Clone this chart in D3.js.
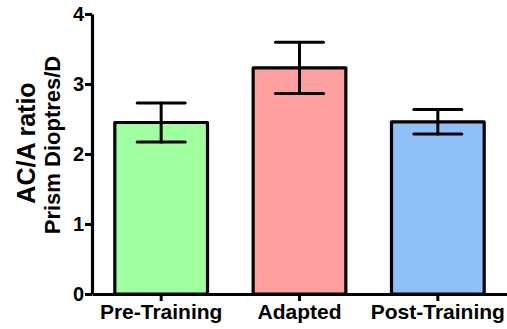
<!DOCTYPE html>
<html>
<head>
<meta charset="utf-8">
<script src="https://cdn.jsdelivr.net/npm/d3@7"></script>
<style>
  html, body { margin: 0; padding: 0; background: #fff; }
  svg { display: block; font-family: "Liberation Sans", Arial, sans-serif; }
</style>
</head>
<body>
<svg id="chart" width="507" height="329"></svg>
<script>
// AC/A ratio by training phase (mean ± SEM)
const categories = ["Pre-Training", "Adapted", "Post-Training"];
const means = [2.45, 3.23, 2.46];
const sems = [0.28, 0.365, 0.175];
const barColors = ["#a0ffa0", "#ffa0a0", "#90c0f8"];
const yTicks = [0, 1, 2, 3, 4];

const svg = d3.select("#chart");
const margin = { left: 92, right: 0, top: 14, bottom: 35 };
const W = 507, H = 329;

const x = d3.scaleBand()
  .domain(categories)
  .range([margin.left, W - margin.right])
  .paddingInner(0.33)
  .paddingOuter(0.165);

const y = d3.scaleLinear()
  .domain([0, 4])
  .range([H - margin.bottom, margin.top]);

// Bars
svg.append("g").selectAll("rect")
  .data(categories)
  .join("rect")
  .attr("x", d => x(d))
  .attr("width", x.bandwidth())
  .attr("y", (d, i) => y(means[i]))
  .attr("height", (d, i) => y(0) - y(means[i]))
  .attr("fill", (d, i) => barColors[i])
  .attr("stroke", "#000")
  .attr("stroke-width", 3.2)
  .attr("stroke-linejoin", "round");

// Error bars
const capW = 48;
const eb = svg.append("g").attr("stroke", "#000").attr("stroke-width", 3).attr("stroke-linecap", "round");
categories.forEach((c, i) => {
  const cx = x(c) + x.bandwidth() / 2;
  const hi = y(means[i] + sems[i]);
  const lo = y(means[i] - sems[i]);
  eb.append("line").attr("x1", cx).attr("x2", cx).attr("y1", hi).attr("y2", lo);
  eb.append("line").attr("x1", cx - capW / 2).attr("x2", cx + capW / 2).attr("y1", hi).attr("y2", hi);
  eb.append("line").attr("x1", cx - capW / 2).attr("x2", cx + capW / 2).attr("y1", lo).attr("y2", lo);
});

// Y axis
const yAxis = svg.append("g")
  .attr("transform", `translate(${margin.left},0)`)
  .call(d3.axisLeft(y).tickValues(yTicks).tickFormat(d3.format("d")).tickSize(7).tickSizeOuter(0).tickPadding(1));
yAxis.select(".domain").attr("stroke-width", 3.2);
yAxis.selectAll(".tick line").attr("stroke-width", 3);
yAxis.selectAll(".tick text")
  .attr("font-size", 20).attr("font-weight", "bold").attr("fill", "#000")
  .attr("font-family", "Liberation Sans, Arial, sans-serif");

// X axis
const xAxis = svg.append("g")
  .attr("transform", `translate(0,${y(0)})`)
  .call(d3.axisBottom(x).tickSize(7).tickSizeOuter(0).tickPadding(3));
xAxis.select(".domain").attr("stroke-width", 3.2);
xAxis.selectAll(".tick line").attr("stroke-width", 3);
xAxis.selectAll(".tick text")
  .attr("font-size", 21).attr("font-weight", "bold").attr("fill", "#000")
  .attr("font-family", "Liberation Sans, Arial, sans-serif");

// Y title (two lines)
const titleCenter = (y(0) + y(4)) / 2 - 10;
svg.append("text")
  .attr("transform", `translate(35,${titleCenter - 1}) rotate(-90)`)
  .attr("text-anchor", "middle")
  .attr("font-size", 25)
  .attr("font-weight", "bold")
  .text("AC/A ratio");
svg.append("text")
  .attr("transform", `translate(60,${titleCenter + 1}) rotate(-90)`)
  .attr("text-anchor", "middle")
  .attr("font-size", 22)
  .attr("font-weight", "bold")
  .text("Prism Dioptres/D");
</script>
</body>
</html>
